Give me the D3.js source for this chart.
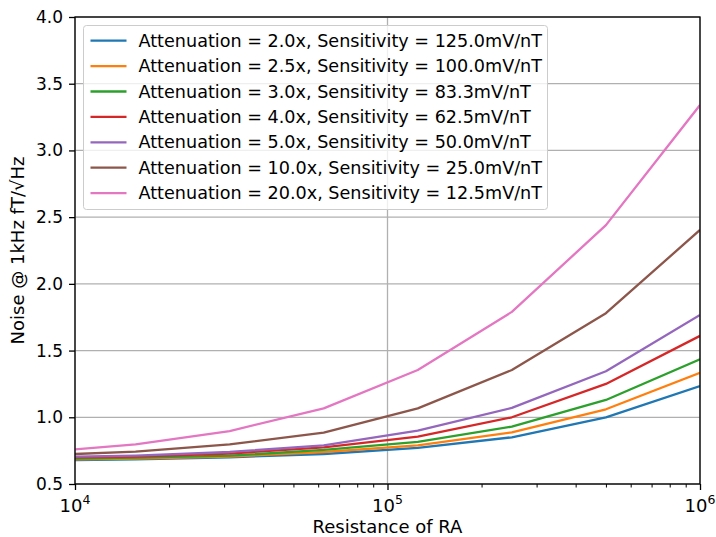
<!DOCTYPE html>
<html>
<head>
<meta charset="utf-8">
<script src="https://cdn.jsdelivr.net/npm/d3@7"></script>
<style>
  body { margin: 0; background: #fff; }
  text { font-family: "DejaVu Sans", sans-serif; fill: #000; }
</style>
</head>
<body>
<svg id="chart"></svg>
<script>
// Noise at 1 kHz vs. resistance of RA, one line per attenuation setting.

const resistance = [1e4, 15625, 31250, 62500, 125000, 250000, 500000, 1e6];

const attenuation = ["2.0", "2.5", "3.0", "4.0", "5.0", "10.0", "20.0"];
const sensitivity = ["125.0", "100.0", "83.3", "62.5", "50.0", "25.0", "12.5"];

const noise_2x   = [0.680, 0.685, 0.700, 0.725, 0.770, 0.850, 1.000, 1.234];
const noise_2_5x = [0.685, 0.690, 0.705, 0.740, 0.790, 0.887, 1.060, 1.334];
const noise_3x   = [0.690, 0.698, 0.712, 0.755, 0.815, 0.930, 1.130, 1.435];
const noise_4x   = [0.700, 0.705, 0.728, 0.775, 0.855, 1.000, 1.250, 1.610];
const noise_5x   = [0.705, 0.713, 0.740, 0.790, 0.900, 1.070, 1.345, 1.767];
const noise_10x  = [0.725, 0.742, 0.797, 0.885, 1.067, 1.354, 1.780, 2.404];
const noise_20x  = [0.760, 0.797, 0.897, 1.067, 1.354, 1.790, 2.440, 3.340];

const yTickValues = [0.5, 1.0, 1.5, 2.0, 2.5, 3.0, 3.5, 4.0];
const xMajorTicks = [1e4, 1e5, 1e6];
const xTickExp = ["4", "5", "6"];

const COLORS = ["#1f77b4", "#ff7f0e", "#2ca02c", "#d62728", "#9467bd", "#8c564b", "#e377c2"];

(function () {
  const W = 716, H = 537;
  const M = { top: 17, right: 16, bottom: 53, left: 75 };
  const innerW = W - M.left - M.right;
  const innerH = H - M.top - M.bottom;
  const FS = 17;        // tick labels
  const FS_LEG = 17.6;  // legend entries
  const FS_TITLE = 18;  // axis titles

  const series = [noise_2x, noise_2_5x, noise_3x, noise_4x, noise_5x, noise_10x, noise_20x]
    .map((vals, i) => ({
      label: `Attenuation = ${attenuation[i]}x, Sensitivity = ${sensitivity[i]}mV/nT`,
      color: COLORS[i],
      points: vals.map((v, j) => ({ r: resistance[j], v: v }))
    }));

  const svg = d3.select("#chart").attr("width", W).attr("height", H);
  const g = svg.append("g").attr("transform", `translate(${M.left},${M.top})`);

  const x = d3.scaleLog().domain([1e4, 1e6]).range([0, innerW]);
  const y = d3.scaleLinear().domain([0.5, 4.0]).range([innerH, 0]);

  svg.append("defs").append("clipPath").attr("id", "plotclip")
    .append("rect").attr("width", innerW).attr("height", innerH);

  // grid
  g.append("g").selectAll("line").data(yTickValues).enter().append("line")
    .attr("x1", 0).attr("x2", innerW)
    .attr("y1", d => y(d)).attr("y2", d => y(d))
    .attr("stroke", "#b0b0b0").attr("stroke-width", 1.3);
  g.append("g").selectAll("line").data(xMajorTicks).enter().append("line")
    .attr("x1", d => x(d)).attr("x2", d => x(d))
    .attr("y1", 0).attr("y2", innerH)
    .attr("stroke", "#b0b0b0").attr("stroke-width", 1.3);

  // lines
  const line = d3.line().x(d => x(d.r)).y(d => y(d.v));
  g.append("g").attr("clip-path", "url(#plotclip)")
    .selectAll("path").data(series).enter().append("path")
    .attr("d", d => line(d.points))
    .attr("fill", "none")
    .attr("stroke", d => d.color)
    .attr("stroke-width", 2.3)
    .attr("stroke-linejoin", "round");

  // y axis
  const yAxis = g.append("g")
    .call(d3.axisLeft(y).tickValues(yTickValues).tickFormat(d3.format(".1f"))
      .tickSize(6).tickPadding(6));
  yAxis.select(".domain").remove();
  yAxis.selectAll(".tick line").attr("stroke", "#000").attr("stroke-width", 1.3);
  yAxis.selectAll(".tick text").attr("font-size", FS).attr("font-family", "DejaVu Sans").attr("fill", "#000");

  // x axis: major + minor ticks
  const xMinor = [];
  [1e4, 1e5].forEach(b => { for (let k = 2; k <= 9; k++) xMinor.push(b * k); });
  const xAxisMinor = g.append("g").attr("transform", `translate(0,${innerH})`)
    .call(d3.axisBottom(x).tickValues(xMinor).tickFormat("").tickSize(3.5));
  xAxisMinor.select(".domain").remove();
  xAxisMinor.selectAll(".tick line").attr("stroke", "#000").attr("stroke-width", 1);

  const xAxis = g.append("g").attr("transform", `translate(0,${innerH})`)
    .call(d3.axisBottom(x).tickValues(xMajorTicks).tickFormat("").tickSize(6));
  xAxis.select(".domain").remove();
  xAxis.selectAll(".tick line").attr("stroke", "#000").attr("stroke-width", 1.3);

  const xl = g.append("g").selectAll("text").data(xMajorTicks).enter().append("text")
    .attr("x", d => x(d)).attr("y", innerH + 28)
    .attr("text-anchor", "middle")
    .attr("font-size", FS_TITLE);
  xl.append("tspan").text("10");
  xl.append("tspan").attr("font-size", 12.5).attr("dy", -8).text((d, i) => xTickExp[i]);

  // spines
  g.append("rect").attr("width", innerW).attr("height", innerH)
    .attr("fill", "none").attr("stroke", "#000").attr("stroke-width", 1.3);

  // axis titles
  svg.append("text")
    .attr("x", M.left + innerW / 2).attr("y", H - 4)
    .attr("text-anchor", "middle").attr("font-size", FS_TITLE)
    .text("Resistance of RA");
  svg.append("text")
    .attr("transform", `translate(24,${M.top + innerH / 2}) rotate(-90)`)
    .attr("text-anchor", "middle").attr("font-size", FS_TITLE)
    .text("Noise @ 1kHz fT/\u221AHz");

  // legend
  const legend = g.append("g").attr("transform", "translate(8.5,8.5)");
  legend.append("rect")
    .attr("width", 464).attr("height", 184).attr("rx", 3)
    .attr("fill", "#fff").attr("fill-opacity", 0.8)
    .attr("stroke", "#cccccc").attr("stroke-width", 1);
  series.forEach((s, i) => {
    const cy = 15.2 + i * 25.4;
    legend.append("line")
      .attr("x1", 7).attr("x2", 43).attr("y1", cy).attr("y2", cy)
      .attr("stroke", s.color).attr("stroke-width", 2.3);
    legend.append("text")
      .attr("x", 55).attr("y", cy).attr("dy", "0.35em")
      .attr("font-size", FS_LEG)
      .text(s.label);
  });
})();
</script>
</body>
</html>
